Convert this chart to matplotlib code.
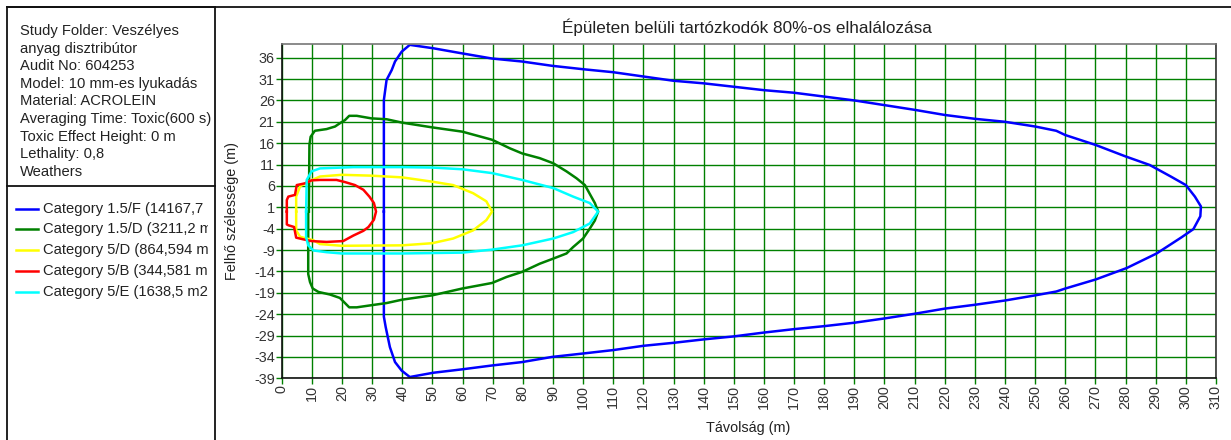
import matplotlib
matplotlib.use("Agg")
import matplotlib.pyplot as plt
from matplotlib.lines import Line2D
from matplotlib.patches import Rectangle

# ---- study information ----
info_lines = [
    "Study Folder: Veszélyes",
    "anyag disztribútor",
    "Audit No: 604253",
    "Model: 10 mm-es lyukadás",
    "Material: ACROLEIN",
    "Averaging Time: Toxic(600 s)",
    "Toxic Effect Height: 0 m",
    "Lethality: 0,8",
    "Weathers",
]

title = "Épületen belüli tartózkodók 80%-os elhalálozása"
xlabel = "Távolság (m)"
ylabel = "Felhő szélessége (m)"

# ---- weather categories ----
categories = ["1.5/F", "1.5/D", "5/D", "5/B", "5/E"]
areas = ["14167,7", "3211,2", "864,594", "344,581", "1638,5"]
colors = ["#0000FF", "#008000", "#FFFF00", "#FF0000", "#00FFFF"]

# ---- footprint contours (distance x, cloud width y) ----
f15_x = [33.9, 33.9, 34.8, 36.5, 37.6, 39.8, 42.5, 50.3, 59.9, 69.8, 79.8, 89.7, 100, 110,
         120, 130, 140, 150, 160, 170, 180, 190, 200, 210, 220, 230, 240, 250, 257, 260,
         270, 280, 288, 295, 300, 303, 305, 304.8, 302.5, 298.6, 290.3, 280.4, 270, 260,
         257, 250, 240, 230, 220, 210, 200, 190, 180, 170, 160, 150, 140, 130, 120, 110,
         100, 89.7, 79.8, 69.8, 59.9, 50.3, 42.5, 39.8, 37.6, 35.9, 34.5, 33.9, 33.9]
f15_y = [0, 26.1, 30.8, 33.1, 35.1, 37.4, 39.0, 38.2, 37.0, 35.8, 35.1, 34.1, 33.3, 32.6,
         31.6, 30.6, 30.0, 29.2, 28.4, 27.8, 26.9, 26.0, 24.9, 23.8, 22.6, 21.7, 21.0, 19.9,
         18.9, 17.9, 15.6, 12.9, 10.9, 8.2, 6.2, 3.5, 1.2, -1.1, -4.1, -6.0, -9.8, -13.2,
         -15.9, -18.0, -18.7, -19.6, -20.8, -21.8, -22.7, -23.9, -25.0, -26.0, -26.8, -27.5,
         -28.3, -29.2, -29.9, -30.7, -31.4, -32.4, -33.2, -34.0, -35.2, -36.0, -36.9, -37.7,
         -38.7, -37.2, -35.2, -31.7, -27.0, -24.6, 0]

d15_x = [9.0, 9.2, 9.6, 11.0, 14.9, 17.7, 19.6, 21.0, 22.4, 24.9, 29.8, 34.8, 40, 49.9,
         59.9, 69.8, 75.7, 79.8, 85.6, 90.1, 94.5, 97.8, 100.6, 102.4, 103.9, 105, 103.9,
         102.2, 100, 96.7, 94.5, 90.1, 85.6, 79.8, 74.6, 69.8, 59.9, 49.9, 40, 34.8, 29.8,
         24.9, 22.4, 21.0, 19.3, 16.0, 12.2, 10.3, 9.4, 8.8, 8.8, 9.0]
d15_y = [0, 15.6, 17.5, 18.9, 19.3, 19.9, 20.8, 21.4, 22.4, 22.4, 21.8, 21.6, 20.8, 19.7,
         18.7, 16.8, 14.8, 13.6, 12.5, 11.3, 9.4, 7.8, 6.2, 3.9, 2.0, 0.0, -2.1, -4.0, -6.3,
         -8.3, -9.8, -11.0, -12.2, -14.1, -15.3, -16.7, -18.0, -19.6, -20.6, -21.4, -21.9,
         -22.4, -22.4, -21.4, -20.2, -19.4, -18.8, -18.0, -16.5, -14.6, 0, 0]

d5_x = [4.8, 4.8, 6.1, 8.8, 12.7, 19.9, 29.8, 40, 49.9, 56.9, 63.5, 67.9, 69.8, 67.9,
        63.5, 56.9, 49.9, 40, 19.9, 12.7, 10.5, 6.1, 4.8, 4.8]
d5_y = [0, 3.5, 5.9, 7.0, 8.2, 8.6, 8.4, 8.0, 7.0, 6.2, 4.3, 2.4, 0.0, -2.0, -4.4, -6.3,
        -7.4, -7.9, -8.0, -7.6, -6.7, -5.9, -4.4, 0]

b5_x = [1.7, 1.7, 2.2, 4.4, 5.0, 7.7, 9.9, 12.7, 18.2, 21.0, 24.3, 27.1, 29.1, 30.6, 31.3,
        30.6, 28.8, 27.1, 23.8, 20.4, 14.9, 9.9, 7.2, 4.8, 4.1, 2.2, 1.7, 1.7]
b5_y = [0, 2.7, 3.5, 3.9, 6.2, 6.6, 7.3, 7.4, 7.4, 6.9, 6.2, 5.1, 3.5, 2.0, 0.0, -1.9,
        -3.6, -4.5, -5.6, -6.9, -7.1, -6.9, -6.5, -6.1, -3.6, -3.2, -3.0, 0]

e5_x = [8.1, 8.3, 9.9, 12.7, 23.8, 40, 49.9, 59.9, 69.8, 79.8, 90.1, 96.7, 102.2, 105,
        102.2, 96.7, 90.1, 79.8, 69.8, 59.9, 40, 19.9, 14.9, 10.5, 8.8, 8.1, 8.1]
e5_y = [0, 7.4, 9.4, 10.1, 10.4, 10.4, 10.3, 9.9, 9.0, 7.4, 5.5, 3.5, 2.0, 0.0, -2.8,
        -4.8, -6.3, -7.9, -8.9, -9.6, -9.8, -9.8, -9.5, -9.1, -7.9, -6.0, 0]

series = [(f15_x, f15_y), (d15_x, d15_y), (d5_x, d5_y), (b5_x, b5_y), (e5_x, e5_y)]

x_ticks = list(range(0, 311, 10))
y_ticks = list(range(-39, 37, 5))

# ---- figure ----
plt.rcParams["font.family"] = ["Liberation Sans", "DejaVu Sans"]
plt.rcParams["axes.unicode_minus"] = False
W, H = 1231, 440
fig = plt.figure(figsize=(W / 100, H / 100), dpi=100)
fig.patch.set_facecolor("white")

def fx(px):
    return px / W

def fy(py):
    return 1 - py / H

grid_green = "#008000"
text_col = "#222222"
fs = 10.4
fs_panel = 10.6

# top border of the window
fig.add_artist(Line2D([fx(7), 1.0], [fy(7), fy(7)], color="#111111", lw=1.3))

# left info/legend panel
pan = fig.add_axes([fx(7), 0.0, fx(215) - fx(7), fy(7)])
pan.set_xlim(0, 208)
pan.set_ylim(433, 0)
pan.set_xticks([])
pan.set_yticks([])
pan.spines["bottom"].set_visible(False)
for s in ("left", "right", "top"):
    pan.spines[s].set_color("#111111")
    pan.spines[s].set_linewidth(1.3)

for i, line in enumerate(info_lines):
    pan.text(13, 28 + 17.6 * i, line, fontsize=fs_panel, color=text_col,
             ha="left", va="baseline", clip_on=True)

pan.plot([0, 208], [179, 179], color="#111111", lw=1.3, clip_on=False)

# legend rows are cut at the inner edge of the legend box
legend_clip = Rectangle((0, 179), 201, 254, transform=pan.transData, visible=False)
pan.add_patch(legend_clip)

for i, (cat, area, col) in enumerate(zip(categories, areas, colors)):
    yy = 201.5 + 20.8 * i
    pan.plot([9, 31], [yy, yy], color=col, lw=1.8)
    t = pan.text(36, yy, f"Category {cat} ({area} m2)", fontsize=fs_panel,
                 color=text_col, ha="left", va="center", clip_on=True)
    t.set_clip_path(legend_clip)

# main plot
ax = fig.add_axes([fx(281.7), fy(378.3), fx(1216) - fx(281.7), fy(44) - fy(378.3)])
ax.set_xlim(0, 310)
ax.set_ylim(-39, 39.2)
ax.set_xticks(x_ticks)
ax.set_yticks(y_ticks)
ax.set_xticklabels([str(v) for v in x_ticks], rotation=90)
ax.grid(True, color=grid_green, lw=1.0)
ax.set_axisbelow(True)
ax.tick_params(axis="both", direction="out", length=4, width=1.0, color=grid_green,
               labelsize=fs, labelcolor="#333333", pad=1)
ax.spines["left"].set_color("#111111")
ax.spines["bottom"].set_color("#111111")
ax.spines["top"].set_color("#777777")
ax.spines["right"].set_color("#333333")
for s in ax.spines.values():
    s.set_linewidth(1.2)

for (xs, ys), col, cat in zip(series, colors, categories):
    ax.plot(xs, ys, color=col, lw=1.8, solid_joinstyle="round", label=cat)

fig.text(fx(747), fy(27), title, fontsize=12.3, color=text_col, ha="center", va="center")
fig.text(fx(748), fy(428), xlabel, fontsize=fs, color=text_col, ha="center", va="center")
fig.text(fx(232), fy(211), ylabel, fontsize=fs, color=text_col, ha="center",
         va="center", rotation=90)

fig.savefig("out.png", dpi=100, facecolor="white")
